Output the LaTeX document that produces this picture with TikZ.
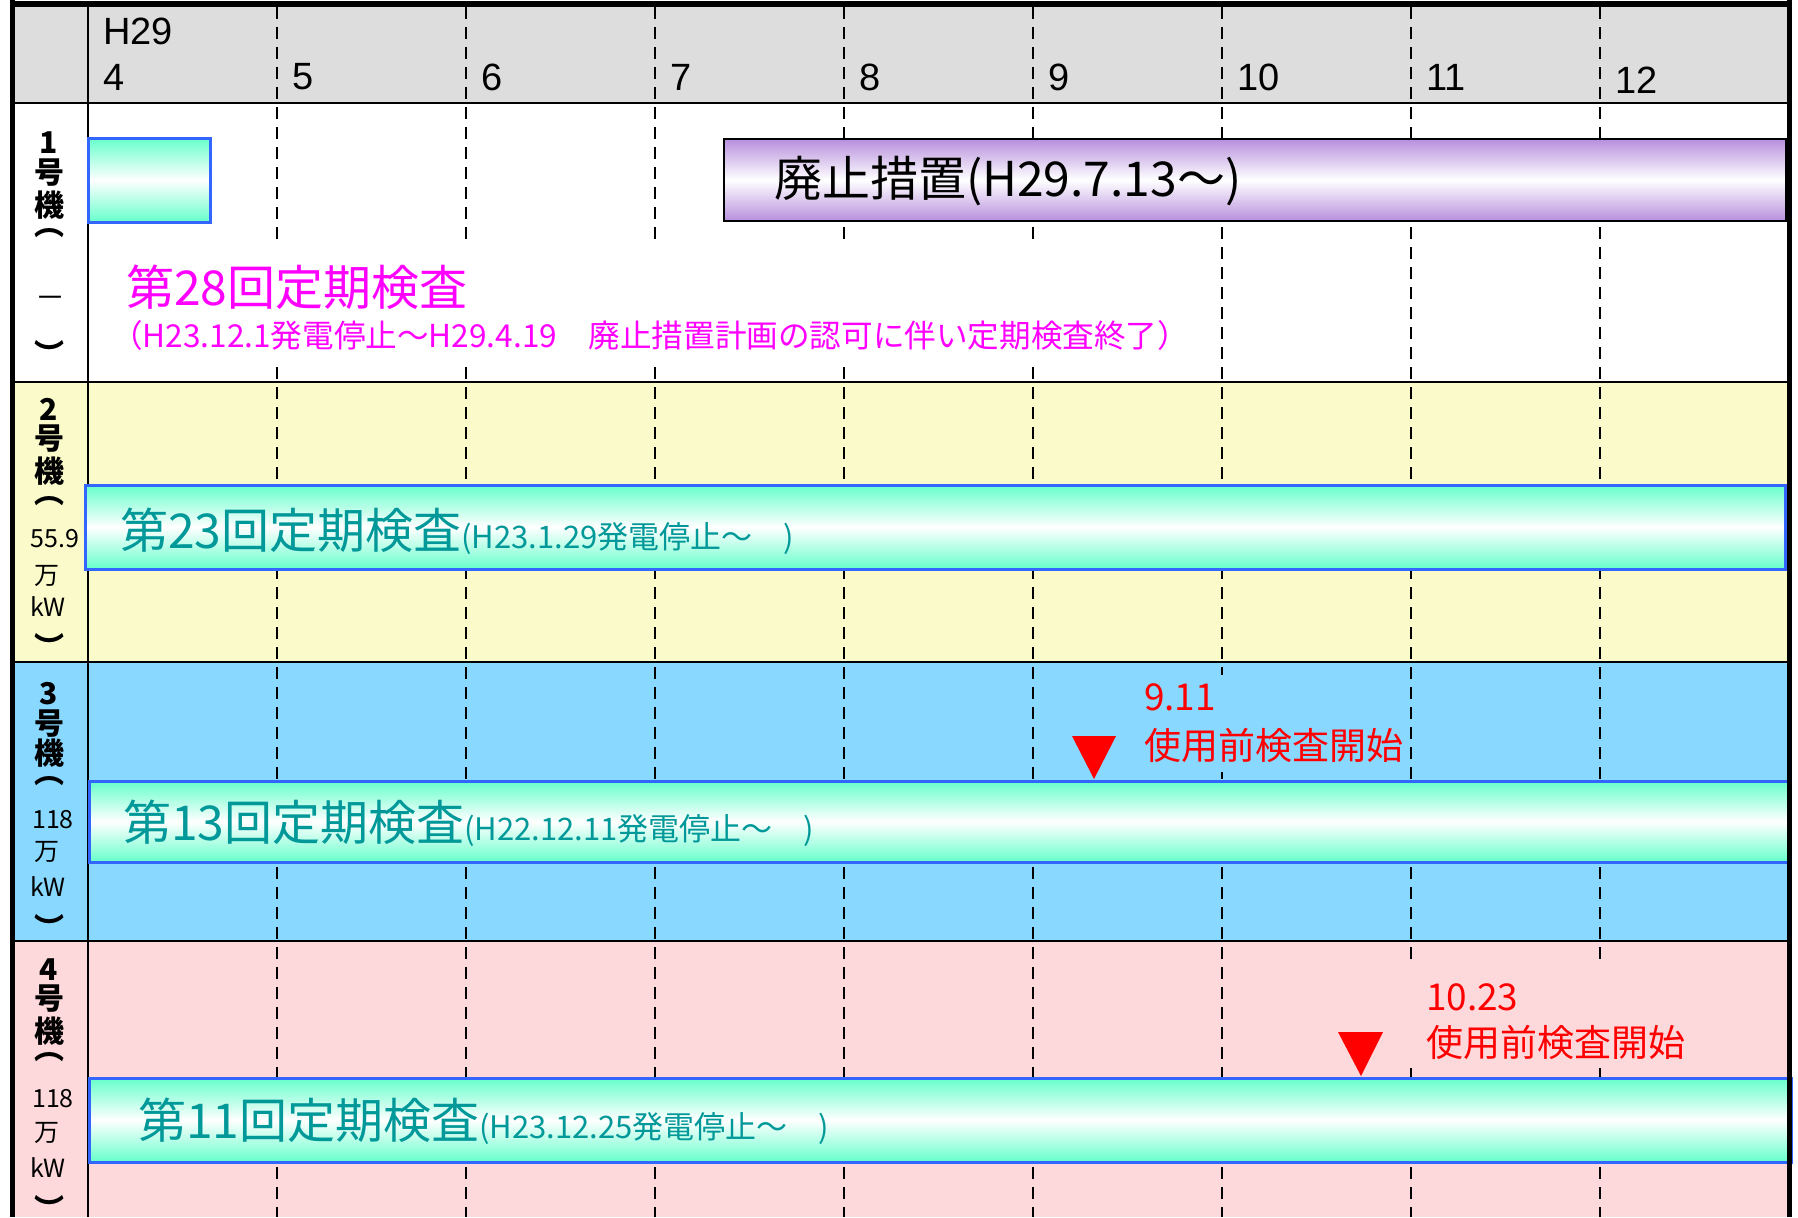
\documentclass[tikz,border=0pt]{standalone}
\usepackage{fontspec}
\setmainfont{Liberation Sans}
\newfontfamily\jp{Noto Sans CJK JP}
\usepackage{tikz}
\newcommand{\barbig}{\jp\fontsize{24}{24}\selectfont}
\newcommand{\barsmall}{\jp\fontsize{15.5}{15.5}\selectfont}
\newcommand{\unitbold}{\jp\bfseries\fontsize{15}{15}\selectfont}
\newcommand{\unitsmall}{\jp\fontsize{12.5}{12.5}\selectfont}
\definecolor{headgray}{HTML}{DDDDDD}
\definecolor{rowyellow}{HTML}{FAFACB}
\definecolor{rowblue}{HTML}{88D8FF}
\definecolor{rowpink}{HTML}{FDD9DC}
\definecolor{barcyan}{HTML}{66FFCC}
\definecolor{barblue}{HTML}{3366FF}
\definecolor{barpurple}{HTML}{B78FDD}
\definecolor{barteal}{HTML}{009898}
\definecolor{endmagenta}{HTML}{FF00FF}
\tikzstyle{monthline}=[line width=1pt, dash pattern=on 6pt off 4pt]
\tikzstyle{rowline}=[line width=1.25pt]
\tikzstyle{inspection}=[draw=barblue, line width=1.5pt, top color=barcyan, bottom color=barcyan, middle color=white]
\tikzstyle{decommission}=[draw=black, line width=1pt, top color=barpurple, bottom color=barpurple, middle color=white]
\tikzstyle{txt}=[inner sep=0, outer sep=0, anchor=west]
\tikzstyle{month}=[txt, font=\fontsize{19}{19}\selectfont]
\tikzstyle{bartext}=[txt, text=barteal]
\tikzstyle{unitb}=[inner sep=0, font=\unitbold]
\tikzstyle{units}=[inner sep=0, font=\unitsmall]
\tikzstyle{note}=[txt, text=red, font=\jp\fontsize{18.5}{18.5}\selectfont]
\tikzstyle{marker}=[fill=red]

\begin{document}
\begin{tikzpicture}[x=0.5pt, y=-0.5pt]
        \useasboundingbox (0,0) rectangle (1798,1217);
        % row backgrounds
        \fill[headgray] (12,7) rectangle (1789,103);
        \fill[white] (12,103) rectangle (1789,382);
        \fill[rowyellow] (12,382) rectangle (1789,662);
        \fill[rowblue] (12,662) rectangle (1789,941);
        \fill[rowpink] (12,941) rectangle (1789,1217);
        % months
        \draw[monthline] (277,7) -- (277,1217);
        \draw[monthline] (466,7) -- (466,1217);
        \draw[monthline] (655,7) -- (655,1217);
        \draw[monthline] (844,7) -- (844,1217);
        \draw[monthline] (1033,7) -- (1033,1217);
        \draw[monthline] (1222,7) -- (1222,1217);
        \draw[monthline] (1411,7) -- (1411,1217);
        \draw[monthline] (1600,7) -- (1600,1217);
        \draw[line width=1pt] (88,7) -- (88,1217);
        \draw[line width=1pt] (12,103) -- (1789,103);
        \draw[rowline] (12,382) -- (1789,382);
        \draw[rowline] (12,662) -- (1789,662);
        \draw[rowline] (12,941) -- (1789,941);
        % bars
        \draw[inspection] (88,138) rectangle (210,222);
        \draw[decommission] (724,139) rectangle (1786,221);
        \draw[inspection] (85,485) rectangle (1785,569);
        \draw[inspection] (89,781) rectangle (1789,862);
        \draw[inspection] (89,1078) rectangle (1791,1162);
        \fill[white] (118,245) rectangle (1185,363);
        \fill[rowblue] (1136,675) rectangle (1408,772);
        \fill[rowpink] (1406,965) rectangle (1700,1068);
        % header
        \node[month] (H29) at (103,31) {H29};
        \node[month] (M4)  at (103,77) {4};
        \node[month] (M5)  at (292,77) {5};
        \node[month] (M6)  at (481,77) {6};
        \node[month] (M7)  at (670,77) {7};
        \node[month] (M8)  at (859,77) {8};
        \node[month] (M9)  at (1048,77) {9};
        \node[month] (M10) at (1237,77) {10};
        \node[month] (M11) at (1426,77) {11};
        \node[month] (M12) at (1615,80) {12};
        % units
        \node[unitb] (U1a) at (49,143) {1};
        \node[unitb] (U1b) at (49,173) {号};
        \node[unitb] (U1c) at (49,205) {機};
        \node[unitb] (U1d) at (49,233) {︵};
        \node[units, font=\jp\fontsize{15}{15}\selectfont] (U1e) at (50,302) {－};
        \node[unitb] (U1f) at (49,353) {︶};
        \node[unitb] (U2a) at (49,409) {2};
        \node[unitb] (U2b) at (49,439) {号};
        \node[unitb] (U2c) at (49,471) {機};
        \node[unitb] (U2d) at (49,501) {︵};
        \node[units] (U2e) at (55,539) {55.9};
        \node[units] (U2f) at (47,576) {万};
        \node[units] (U2g) at (48,607) {kW};
        \node[unitb] (U2h) at (49,646) {︶};
        \node[unitb] (U3a) at (49,694) {3};
        \node[unitb] (U3b) at (49,724) {号};
        \node[unitb] (U3c) at (49,753) {機};
        \node[unitb] (U3d) at (49,781) {︵};
        \node[units] (U3e) at (53,820) {118};
        \node[units] (U3f) at (47,852) {万};
        \node[units] (U3g) at (48,887) {kW};
        \node[unitb] (U3h) at (49,927) {︶};
        \node[unitb] (U4a) at (49,970) {4};
        \node[unitb] (U4b) at (49,999) {号};
        \node[unitb] (U4c) at (49,1031) {機};
        \node[unitb] (U4d) at (49,1057) {︵};
        \node[units] (U4e) at (53,1099) {118};
        \node[units] (U4f) at (47,1133) {万};
        \node[units] (U4g) at (48,1168) {kW};
        \node[unitb] (U4h) at (49,1208) {︶};
        % bar texts
        \node[txt, font=\barbig] (P1) at (774,181) {廃止措置(H29.7.13～)};
        \node[txt, text=endmagenta, font=\barbig] (T1a) at (126,287) {第28回定期検査};
        \node[txt, text=endmagenta, font=\jp\fontsize{15.8}{15.8}\selectfont] (T1b) at (111,335) {（H23.12.1発電停止～H29.4.19　廃止措置計画の認可に伴い定期検査終了）};
        \node[bartext] (T2) at (120,531) {{\barbig 第23回定期検査}{\barsmall (H23.1.29発電停止～　)}};
        \node[bartext] (T3) at (123,823) {{\barbig 第13回定期検査}{\barsmall (H22.12.11発電停止～　)}};
        \node[bartext] (T4) at (138,1121) {{\barbig 第11回定期検査}{\barsmall (H23.12.25発電停止～　)}};
        % start of pre-use inspection
        \coordinate (V3) at (1094,779);
        \fill[marker] (V3) -- ++(-22,-43) -- ++(44,0) -- cycle;
        \coordinate (V4) at (1361,1076);
        \fill[marker] (V4) -- ++(-23,-44) -- ++(45,0) -- cycle;
        \node[note] (N3a) at (1144,697) {9.11};
        \node[note] (N3b) at (1144,745) {使用前検査開始};
        \node[note] (N4a) at (1426,997) {10.23};
        \node[note] (N4b) at (1426,1042) {使用前検査開始};
        % frame
        \draw[line width=3pt] (10,4) -- (1792,4);
        \draw[line width=2.5pt] (12,0) -- (12,1217);
        \draw[line width=2.5pt] (1789.5,0) -- (1789.5,1217);
\end{tikzpicture}
\end{document}
